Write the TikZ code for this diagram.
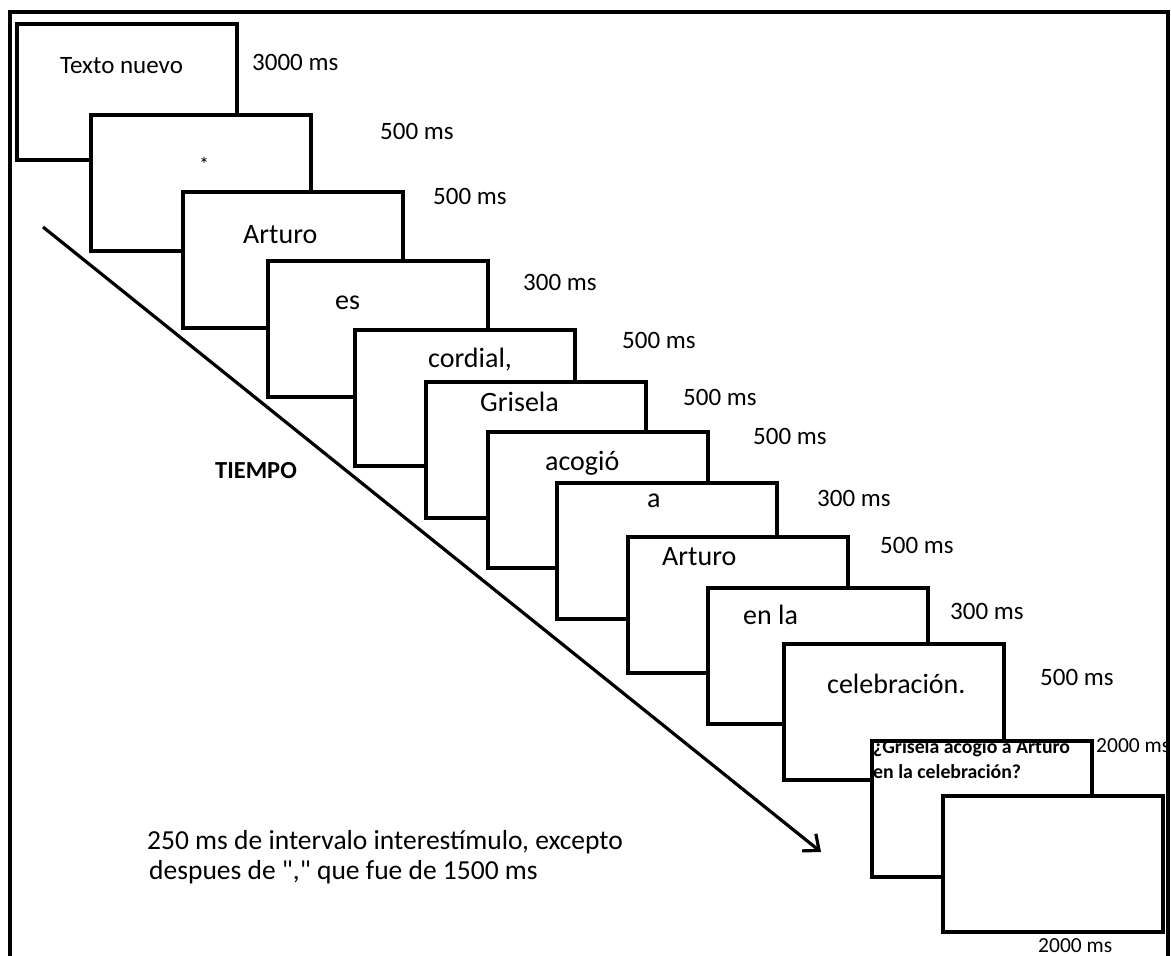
\documentclass[tikz,border=0pt]{standalone}
\usepackage{fontspec}
\setmainfont{Carlito}[Ligatures=TeXOff]
\usetikzlibrary{arrows.meta}
\begin{document}
\begin{tikzpicture}[x=1pt,y=-1pt,
  screen/.style={draw,line width=3.6pt,fill=white,anchor=north west,
    minimum width=220pt,minimum height=136pt,inner sep=0pt},
  word/.style={anchor=base west,inner sep=0pt,font=\fontsize{28}{34}\selectfont},
  msec/.style={anchor=base west,inner sep=0pt,font=\fontsize{25}{30}\selectfont},
  msecsmall/.style={anchor=base west,inner sep=0pt,font=\fontsize{21.5}{26}\selectfont},
  question/.style={anchor=base west,inner sep=0pt,font=\bfseries\fontsize{19.8}{24}\selectfont},
  note/.style={anchor=base west,inner sep=0pt,font=\fontsize{27.5}{30}\selectfont}]

\useasboundingbox (0,0) rectangle (1171,956);
\fill[white] (0,0) rectangle (1171,956);

% frame
\draw[line width=4pt] (10,956)--(10,12)--(1168,12)--(1168,956);

% time axis
\coordinate (tstart) at (43,227);
\coordinate (tend) at (821,852);
\draw[line width=3.2pt,-{Straight Barb[length=13pt,width=22pt]}] (tstart)--(tend);
\node[anchor=base west,inner sep=0pt,font=\bfseries\fontsize{24.5}{30}\selectfont] (tiempo) at (215,478) {TIEMPO};

% screens
\foreach \n/\x/\y in {1/15/22,2/89/113,3/181/190,4/266/259,5/353/328,6/424/380,
  7/486/430,8/555/481,9/626/535,10/706/586,11/782/642,12/870/739,13/941/794}
{
\node[screen] (s\n) at (\x,\y) {};
}

% words
\node[word,font=\fontsize{25}{30}\selectfont] (w1) at (60,73) {Texto nuevo};
\node[word,font=\fontsize{20}{24}\selectfont] (w2) at (199,171) {*};
\node[word] (w3) at (243,243) {Arturo};
\node[word] (w4) at (335,309) {es};
\node[word] (w5) at (428,367) {cordial,};
\node[word] (w6) at (480,411) {Grisela};
\node[word] (w7) at (545,470) {acogió};
\node[word] (w8) at (647,507) {a};
\node[word] (w9) at (662,565) {Arturo};
\node[word] (w10) at (743,624) {en la};
\node[word] (w11) at (827,693) {celebración.};
\node[question] (q1) at (873,753) {¿Grisela acogió a Arturo};
\node[question] (q2) at (873,778) {en la celebración?};

% durations
\node[msec] (t1) at (252,70) {3000 ms};
\node[msec] (t2) at (380,139) {500 ms};
\node[msec] (t3) at (433,204) {500 ms};
\node[msec] (t4) at (523,290) {300 ms};
\node[msec] (t5) at (622,348) {500 ms};
\node[msec] (t6) at (683,405) {500 ms};
\node[msec] (t7) at (753,444) {500 ms};
\node[msec] (t8) at (817,506) {300 ms};
\node[msec] (t9) at (880,553) {500 ms};
\node[msec] (t10) at (950,619) {300 ms};
\node[msec] (t11) at (1040,685) {500 ms};
\node[msecsmall] (t12) at (1096,752) {2000 ms};
\node[msecsmall] (t13) at (1038,952) {2000 ms};

% interval note
\node[note] (note1) at (147,849) {250 ms de intervalo interestímulo, excepto};
\node[note] (note2) at (149,879) {despues de "," que fue de 1500 ms};

\end{tikzpicture}
\end{document}
